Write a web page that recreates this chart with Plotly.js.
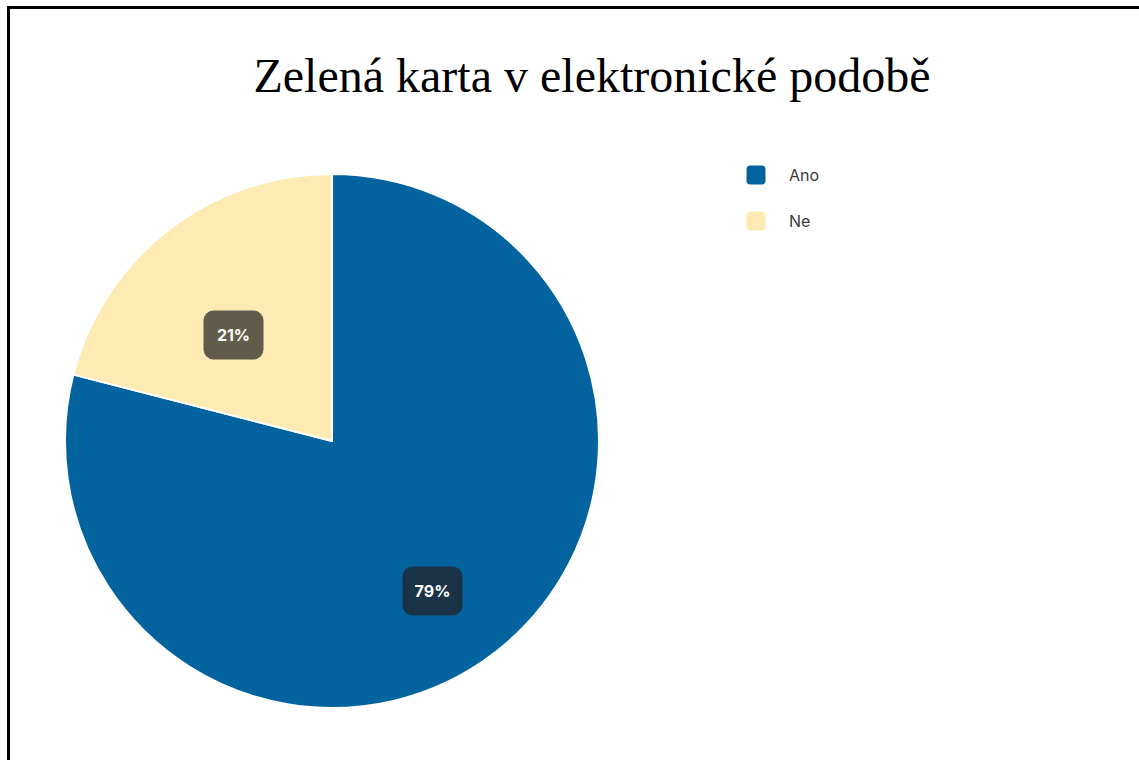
<!DOCTYPE html>
<html>
<head>
<meta charset="utf-8">
<script src="https://cdn.plot.ly/plotly-3.0.1.min.js"></script>
<style>
  html, body { margin: 0; padding: 0; background: #ffffff; overflow: hidden; }
  #frame { position: absolute; left: 7px; top: 6px; width: 1200px; height: 900px; border: 3px solid #000; box-sizing: border-box; }
  #chart { position: absolute; left: 0; top: 0; width: 1139px; height: 760px; }
</style>
</head>
<body>
<div id="frame"></div>
<div id="chart"></div>
<script>
// ---- data ----
const chartTitle = "Zelená karta v elektronické podobě";
const labels = ["Ano", "Ne"];
const values = [79, 21];
const colors = ["#02639f", "#fdebb3"];
const labelBoxColors = ["#1a3246", "#615c4a"];

// ---- layout constants (pixels) ----
const W = 1139, H = 760;
const cx = 332, cy = 441, R = 267;
const labelRadiusFrac = [0.665, 0.55];
const labelShift = { x: -8, y: 10 };
const px = x => x / W;
const py = y => 1 - y / H;

const total = values.reduce((a, b) => a + b, 0);

// label annotations computed from slice geometry (clockwise from 12 o'clock)
const annotations = [];
let acc = 0;
values.forEach((v, i) => {
  const mid = (acc + v / 2) / total * 2 * Math.PI;
  acc += v;
  const r = R * labelRadiusFrac[i];
  const x = cx + r * Math.sin(mid) + labelShift.x;
  const y = cy - r * Math.cos(mid) + labelShift.y;
  annotations.push({
    xref: 'paper', yref: 'paper', x: px(x), y: py(y),
    xanchor: 'center', yanchor: 'middle', showarrow: false,
    text: '<b>' + Math.round(v / total * 100) + '%</b>',
    font: { family: 'Inter, Roboto, sans-serif', size: 16, color: '#ffffff' },
    bgcolor: labelBoxColors[i], borderpad: 12, width: 35, height: 24,
    name: 'slicelabel'
  });
});

// custom legend (rounded square markers + text)
const legX = 755.5, legY0 = 175, legGap = 45.5;
labels.forEach((lab, i) => {
  const y = legY0 + i * legGap;
  annotations.push({
    xref: 'paper', yref: 'paper', x: px(legX), y: py(y),
    xanchor: 'center', yanchor: 'middle', showarrow: false,
    text: ' ', bgcolor: colors[i], borderpad: 0, width: 18, height: 18,
    font: { size: 10 }, name: 'legmarker'
  });
  annotations.push({
    xref: 'paper', yref: 'paper', x: px(787), y: py(y),
    xanchor: 'left', yanchor: 'middle', showarrow: false,
    text: lab,
    font: { family: 'Inter, Roboto, sans-serif', size: 16, color: '#3a3a3a' }
  });
});

const trace = {
  type: 'pie',
  labels: labels,
  values: values,
  sort: false,
  direction: 'clockwise',
  rotation: 0,
  marker: { colors: colors, line: { color: '#ffffff', width: 2 } },
  textinfo: 'none',
  hoverinfo: 'label+percent',
  showlegend: false,
  domain: { x: [px(cx - R), px(cx + R)], y: [py(cy + R), py(cy - R)] }
};

const layout = {
  width: W, height: H,
  margin: { l: 0, r: 0, t: 0, b: 0 },
  paper_bgcolor: 'rgba(0,0,0,0)',
  plot_bgcolor: 'rgba(0,0,0,0)',
  showlegend: false,
  title: {
    text: chartTitle,
    font: { family: '"Liberation Serif", "Times New Roman", serif', size: 48, color: '#000000' },
    x: px(592), xanchor: 'center', y: py(75), yanchor: 'middle'
  },
  annotations: annotations
};

Plotly.newPlot('chart', [trace], layout, { displayModeBar: false, staticPlot: true }).then(() => {
  document.querySelectorAll('.annotation').forEach((g, idx) => {
    const a = annotations[idx];
    const rect = g.querySelector('rect.bg');
    if (!rect || !a) return;
    const rr = a.name === 'slicelabel' ? 10 : (a.name === 'legmarker' ? 4 : 0);
    rect.setAttribute('rx', rr);
    rect.setAttribute('ry', rr);
  });
});
</script>
</body>
</html>
